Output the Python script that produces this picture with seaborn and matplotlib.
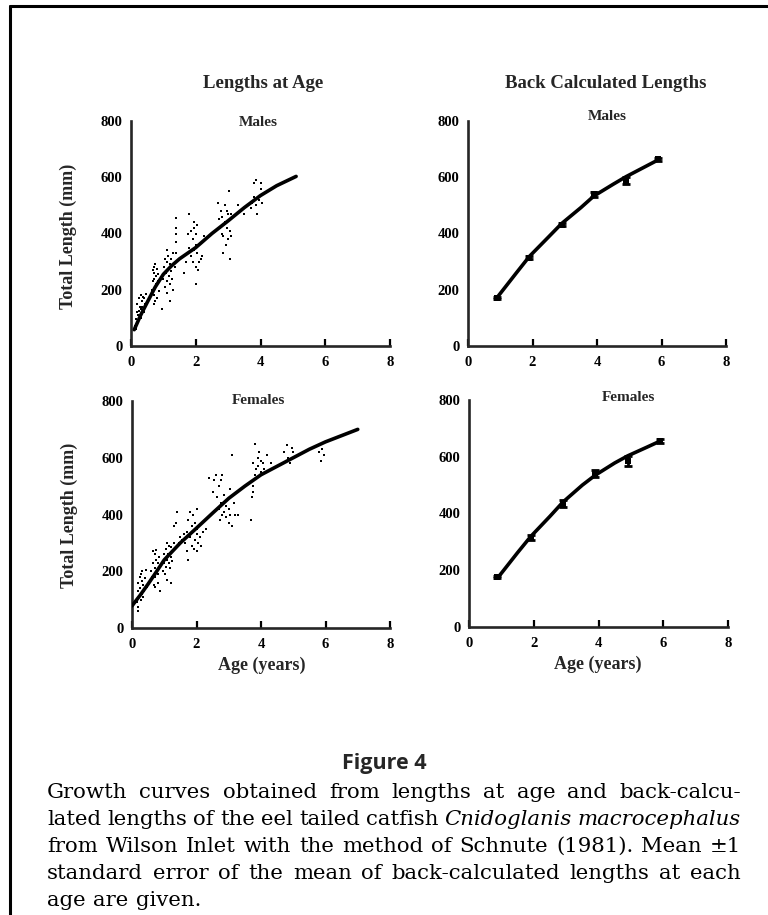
import numpy as np
import pandas as pd
import matplotlib
matplotlib.use("Agg")
import matplotlib.pyplot as plt
from matplotlib.lines import Line2D
import seaborn as sns

# ---------------- data ----------------
# Lengths at age, males (scatter)
male_age = [0.12, 0.15, 0.18, 0.2, 0.22, 0.25, 0.28, 0.3, 0.32, 0.35, 0.38, 0.4, 0.42, 0.45, 0.2, 0.25, 0.3, 0.15, 0.35, 0.4,
            0.65, 0.68, 0.7, 0.72, 0.7, 0.75, 0.75, 0.78, 0.8, 0.8, 0.82, 0.85, 0.7, 0.75, 0.72, 0.78, 0.68, 0.83, 0.95,
            1.0, 1.02, 1.05, 1.05, 1.08, 1.1, 1.1, 1.12, 1.15, 1.15, 1.18, 1.2, 1.2, 1.22, 1.25, 1.25, 1.28, 1.3, 1.3, 1.35,
            1.4, 1.4, 1.4, 1.4, 1.38, 1.12,
            1.65, 1.7, 1.75, 1.8, 1.8, 1.85, 1.85, 1.9, 1.9, 1.95, 1.95, 2.0, 2.0, 2.0, 2.02, 2.05, 2.05, 2.1, 2.1, 2.15, 2.2,
            1.95, 2.25, 1.75, 2.08,
            2.7, 2.72, 2.75, 2.78, 2.8, 2.85, 2.85, 2.9, 2.9, 2.92, 2.95, 3.0, 3.0, 3.02, 3.05, 3.05, 3.08, 3.1, 2.95, 2.82,
            3.3, 3.5,
            3.7, 3.75, 3.8, 3.8, 3.85, 3.9, 3.95, 4.0, 4.0, 4.05, 3.85, 4.1]
male_len = [70, 95, 120, 150, 110, 170, 140, 180, 130, 160, 175, 120, 150, 185, 80, 125, 100, 60, 140, 170,
            200, 230, 260, 180, 150, 290, 210, 250, 170, 275, 230, 195, 240, 160, 280, 220, 270, 255, 130,
            240, 280, 210, 310, 260, 230, 300, 190, 270, 320, 250, 160, 290, 220, 310, 265, 240, 330, 200, 280,
            370, 420, 455, 330, 400, 340,
            260, 300, 400, 470, 350, 320, 410, 380, 300, 420, 340, 360, 220, 280, 400, 330, 430, 360, 300, 310, 320,
            440, 390, 330, 270,
            510, 450, 420, 480, 400, 390, 330, 500, 440, 360, 420, 470, 380, 550, 410, 310, 470, 390, 480, 460,
            500, 470,
            490, 510, 530, 580, 500, 470, 520, 560, 580, 510, 590, 540]

# Lengths at age, females (scatter)
female_age = [0.15, 0.18, 0.2, 0.2, 0.22, 0.25, 0.25, 0.28, 0.3, 0.3, 0.32, 0.35, 0.38, 0.4, 0.42, 0.45, 0.18, 0.28, 0.35,
              0.6, 0.62, 0.65, 0.68, 0.7, 0.7, 0.72, 0.75, 0.75, 0.78, 0.8, 0.8, 0.82, 0.85, 0.85, 0.88, 0.9, 0.65, 0.72,
              0.95, 1.0, 1.0, 1.02, 1.05, 1.05, 1.08, 1.1, 1.1, 1.12, 1.15, 1.15, 1.18, 1.2, 1.2, 1.22, 1.25, 1.3, 1.3,
              1.35, 1.4, 1.45, 1.5, 1.55,
              1.65, 1.7, 1.7, 1.75, 1.75, 1.8, 1.8, 1.85, 1.85, 1.9, 1.9, 1.92, 1.95, 1.95, 2.0, 2.0, 2.0, 2.02, 2.05,
              2.1, 2.15, 2.2, 2.3, 1.6,
              2.4, 2.5, 2.6, 2.65, 2.7, 2.7, 2.72, 2.75, 2.75, 2.8, 2.8, 2.85, 2.85, 2.9, 2.92, 2.95, 3.0, 3.0, 3.05,
              3.05, 3.1, 3.1, 3.15, 3.2, 3.3, 2.55,
              3.7, 3.72, 3.75, 3.75, 3.75, 3.8, 3.8, 3.85, 3.9, 3.9, 3.95, 4.0, 4.0, 4.05, 4.1, 4.2, 4.3,
              4.7, 4.8, 4.85, 4.9, 4.95, 5.0,
              5.7, 5.8, 5.85, 5.9, 5.95]
female_len = [90, 130, 160, 60, 110, 180, 140, 100, 165, 120, 200, 150, 130, 175, 205, 145, 75, 190, 110,
              200, 180, 230, 150, 260, 210, 180, 240, 275, 200, 160, 230, 190, 250, 215, 130, 225, 270, 145,
              200, 230, 260, 190, 280, 215, 240, 300, 170, 260, 230, 290, 210, 250, 160, 285, 235, 300, 360,
              370, 410, 300, 320, 310,
              300, 340, 270, 380, 240, 410, 320, 290, 360, 340, 400, 280, 310, 370, 330, 420, 270, 350, 300,
              320, 290, 340, 350, 330,
              530, 480, 540, 460, 500, 420, 380, 440, 520, 400, 540, 470, 410, 430, 390, 450, 420, 370, 400,
              490, 610, 360, 440, 400, 400, 520,
              380, 460, 480, 500, 580, 650, 540, 560, 600, 570, 620, 590, 550, 580, 560, 610, 580,
              620, 645, 600, 580, 635, 620,
              640, 620, 590, 630, 610]

# Fitted growth curves (lengths at age)
male_fit_age = [0.1, 0.3, 0.5, 0.75, 1.0, 1.25, 1.5, 1.75, 2.0, 2.5, 3.0, 3.5, 4.0, 4.5, 5.1]
male_fit_len = [58, 110, 155, 210, 255, 285, 310, 330, 350, 400, 445, 492, 535, 570, 603]
female_fit_age = [0.0, 0.25, 0.5, 0.75, 1.0, 1.5, 2.0, 2.5, 3.0, 3.5, 4.0, 4.5, 5.0, 5.5, 6.0, 6.5, 7.0]
female_fit_len = [78, 115, 155, 197, 240, 300, 352, 405, 457, 500, 540, 570, 600, 630, 656, 678, 700]

# Back-calculated lengths (mean +/- 1 SE)
bc_male_age = [0.9, 1.9, 2.9, 3.9, 4.9, 5.9]
bc_male_len = [172, 314, 432, 540, 588, 664]
bc_male_se = [4, 6, 6, 9, 13, 5]
bc_female_age = [0.88, 1.9, 2.9, 3.9, 4.9, 5.9]
bc_female_len = [176, 315, 434, 540, 585, 655]
bc_female_se = [4, 8, 12, 12, 18, 6]

bc_male_fit_age = [0.9, 1.5, 1.9, 2.5, 2.9, 3.5, 3.9, 4.5, 4.9, 5.5, 5.9]
bc_male_fit_len = [172, 260, 318, 388, 435, 492, 533, 575, 602, 638, 662]
bc_female_fit_age = [0.9, 1.5, 1.9, 2.5, 2.9, 3.5, 3.9, 4.5, 4.9, 5.5, 5.9]
bc_female_fit_len = [175, 262, 318, 390, 440, 500, 535, 578, 603, 634, 655]

xticks = [0, 2, 4, 6, 8]
yticks = [0, 200, 400, 600, 800]

col_titles = ["Lengths at Age", "Back Calculated Lengths"]
row_titles = ["Males", "Females"]
ylabel = "Total Length (mm)"
xlabel = "Age (years)"
fig_title = "Figure 4"
caption_lines = [
    [("Growth", "normal"), ("curves", "normal"), ("obtained", "normal"), ("from", "normal"), ("lengths", "normal"),
     ("at", "normal"), ("age", "normal"), ("and", "normal"), ("back-calcu-", "normal")],
    [("lated", "normal"), ("lengths", "normal"), ("of", "normal"), ("the", "normal"), ("eel", "normal"),
     ("tailed", "normal"), ("catfish", "normal"), ("Cnidoglanis", "italic"), ("macrocephalus", "italic")],
    [("from", "normal"), ("Wilson", "normal"), ("Inlet", "normal"), ("with", "normal"), ("the", "normal"),
     ("method", "normal"), ("of", "normal"), ("Schnute", "normal"), ("(1981).", "normal"), ("Mean", "normal"),
     ("\u00b11", "normal")],
    [("standard", "normal"), ("error", "normal"), ("of", "normal"), ("the", "normal"), ("mean", "normal"),
     ("of", "normal"), ("back-calculated", "normal"), ("lengths", "normal"), ("at", "normal"), ("each", "normal")],
    [("age", "normal"), ("are", "normal"), ("given.", "normal")],
]

# ---------------- style ----------------
sns.set_theme(style="ticks")
plt.rcParams["font.family"] = ["Liberation Serif", "DejaVu Serif"]
plt.rcParams["axes.linewidth"] = 1.9

W, H = 768, 915
fig = plt.figure(figsize=(W / 100, H / 100), dpi=100)
fig.patch.set_facecolor("white")

def px_axes(x0, y0, x1, y1):
    return fig.add_axes([x0 / W, 1 - y1 / H, (x1 - x0) / W, (y1 - y0) / H])

ax_tl = px_axes(131, 121, 390, 346)
ax_tr = px_axes(468, 121, 726, 346)
ax_bl = px_axes(132, 401, 390, 628)
ax_br = px_axes(469, 400, 728, 627)

lab_font = dict(family="Liberation Serif", weight="bold")

def style_axis(ax):
    ax.set_xlim(0, 8)
    ax.set_ylim(0, 800)
    ax.set_xticks(xticks)
    ax.set_yticks(yticks)
    ax.set_xticklabels([str(v) for v in xticks], fontsize=10.5, fontweight="bold", family="Liberation Serif")
    ax.set_yticklabels([str(v) for v in yticks], fontsize=10.5, fontweight="bold", family="Liberation Serif")
    ax.tick_params(axis="x", direction="in", length=5, width=1.6, pad=7, colors="black")
    ax.tick_params(axis="y", direction="in", length=0, width=1.6, pad=6, colors="black")
    sns.despine(ax=ax)
    ax.set_xlabel("")
    ax.set_ylabel("")
    ax.set_facecolor("white")
    ax.grid(False)

# Lengths at age
for ax, a, l, fa, fl in [(ax_tl, male_age, male_len, male_fit_age, male_fit_len),
                         (ax_bl, female_age, female_len, female_fit_age, female_fit_len)]:
    sns.scatterplot(x=a, y=l, ax=ax, color="black", marker="s", s=3.5, linewidth=0, zorder=3)
    sns.lineplot(x=fa, y=fl, ax=ax, color="black", linewidth=2.6, zorder=4)
    style_axis(ax)

# Back-calculated
for ax, a, l, se, fa, fl in [(ax_tr, bc_male_age, bc_male_len, bc_male_se, bc_male_fit_age, bc_male_fit_len),
                             (ax_br, bc_female_age, bc_female_len, bc_female_se, bc_female_fit_age, bc_female_fit_len)]:
    sns.lineplot(x=fa, y=fl, ax=ax, color="black", linewidth=2.6, zorder=3)
    ax.errorbar(a, l, yerr=se, fmt="none", ecolor="black", elinewidth=2, capsize=3, capthick=2, zorder=4)
    sns.scatterplot(x=a, y=l, ax=ax, color="black", marker="s", s=20, linewidth=0, zorder=5)
    style_axis(ax)

# titles and labels (figure pixel positions)
def ftext(x, y, s, **kw):
    fig.text(x / W, 1 - y / H, s, **kw)

ftext(263, 84, col_titles[0], ha="center", va="center", fontsize=13.5, **lab_font)
ftext(606, 84, col_titles[1], ha="center", va="center", fontsize=13.5, **lab_font)
ftext(258, 122, row_titles[0], ha="center", va="center", fontsize=11, **lab_font)
ftext(607, 117, row_titles[0], ha="center", va="center", fontsize=11, **lab_font)
ftext(258, 400, row_titles[1], ha="center", va="center", fontsize=11, **lab_font)
ftext(628, 397, row_titles[1], ha="center", va="center", fontsize=11, **lab_font)
ftext(68, 236, ylabel, ha="center", va="center", rotation=90, fontsize=13, **lab_font)
ftext(69, 515, ylabel, ha="center", va="center", rotation=90, fontsize=13, **lab_font)
ftext(262, 665, xlabel, ha="center", va="center", fontsize=13, **lab_font)
ftext(598, 664, xlabel, ha="center", va="center", fontsize=13, **lab_font)

# caption
ftext(384, 764, fig_title, ha="center", va="center", fontsize=15.5, family="Open Sans", fontweight="bold")

fig.canvas.draw()
renderer = fig.canvas.get_renderer()
cap_fs = 15.3
x_left, x_right = 47, 741
line_y = [798, 825, 852, 879, 906]
for i, (words, yb) in enumerate(zip(caption_lines, line_y)):
    texts, widths = [], []
    for w, st in words:
        t = fig.text(0, 1 - yb / H, w, fontsize=cap_fs, family="DejaVu Serif", style=st,
                     ha="left", va="baseline", color="black")
        widths.append(t.get_window_extent(renderer).width)
        texts.append(t)
    if i == len(caption_lines) - 1:
        gap = 7.5
    else:
        gap = (x_right - x_left - sum(widths)) / (len(words) - 1)
    x = x_left
    for t, wd in zip(texts, widths):
        t.set_x(x / W)
        x += wd + gap

# frame lines
fig.add_artist(Line2D([10 / W, 1.0], [1 - 6 / H, 1 - 6 / H], color="black", linewidth=2.2, transform=fig.transFigure))
fig.add_artist(Line2D([10 / W, 10 / W], [1 - 6 / H, 0.0], color="black", linewidth=2.2, transform=fig.transFigure))

fig.savefig("out.png", dpi=100, facecolor="white")
